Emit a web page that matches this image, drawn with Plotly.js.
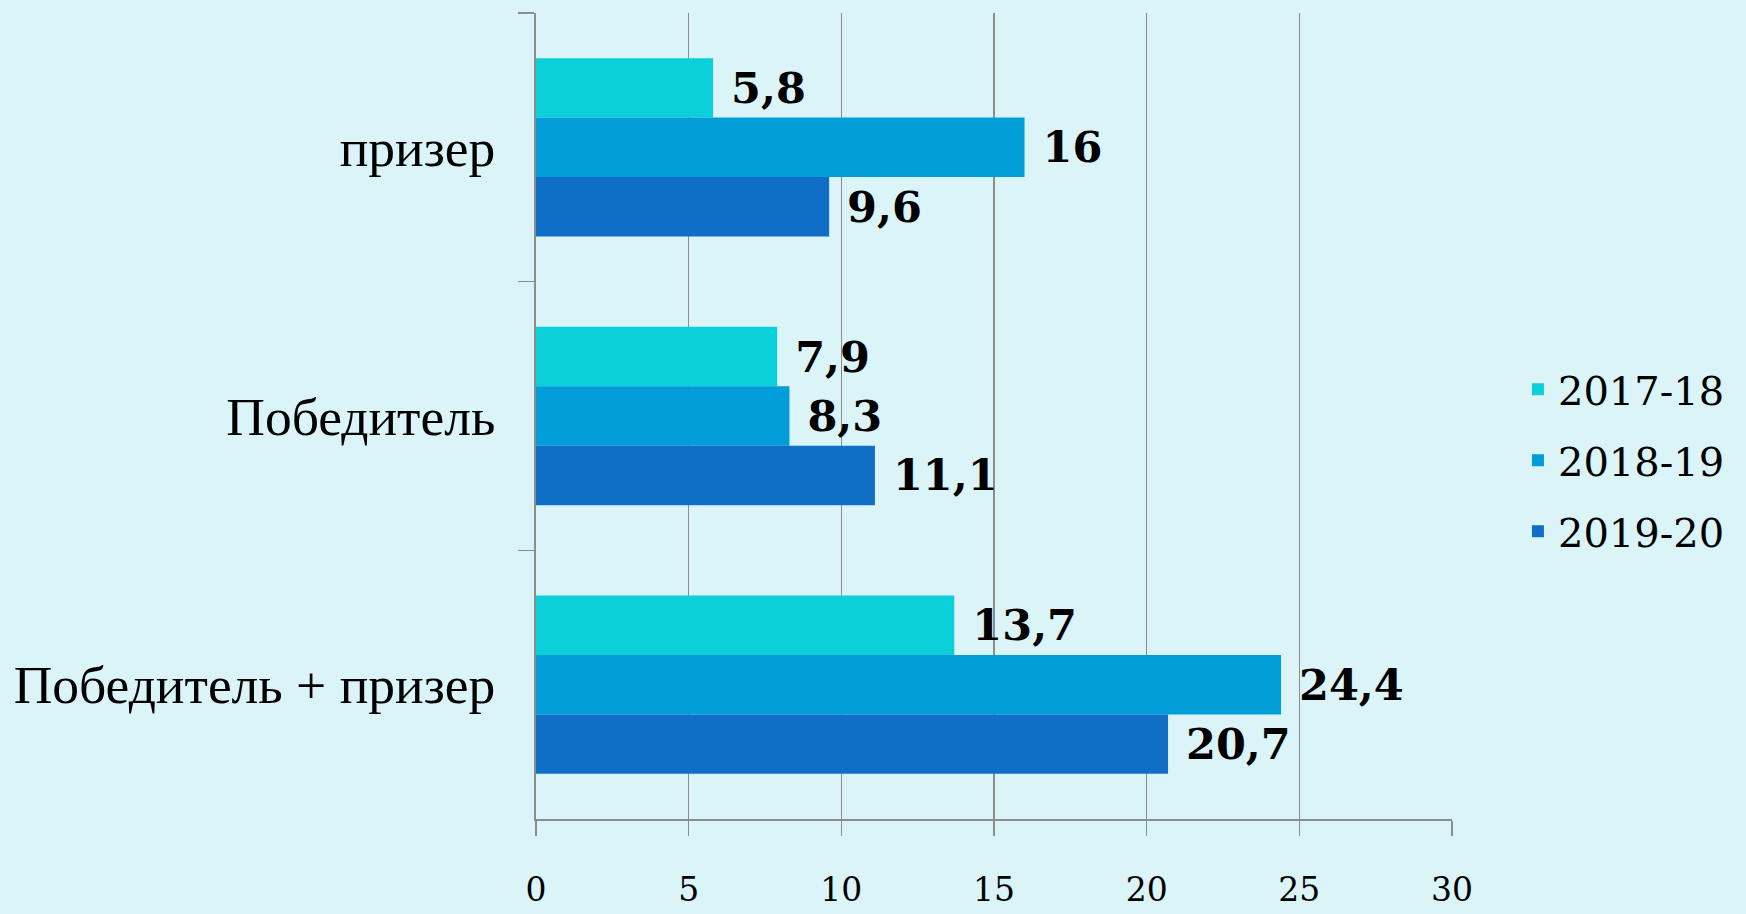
<!DOCTYPE html>
<html>
<head>
<meta charset="utf-8">
<script src="https://cdn.plot.ly/plotly-3.0.1.min.js"></script>
<style>html,body{margin:0;padding:0;background:#dbf4f8;}#chart{width:1746px;height:914px;}</style>
</head>
<body>
<div id="chart"></div>
<script>
const categories = ["призер", "Победитель", "Победитель + призер"];
const seriesNames = ["2017-18", "2018-19", "2019-20"];
const values2017 = [5.8, 7.9, 13.7];
const values2018 = [16, 8.3, 24.4];
const values2019 = [9.6, 11.1, 20.7];
const xTicks = [0, 5, 10, 15, 20, 25, 30];

const colors = ["#0bd0d9", "#009dd9", "#0f6fc6"];
const allValues = [values2017, values2018, values2019];
const fmt = v => String(v).replace('.', ',');

const traces = allValues.map((vals, i) => ({
  type: 'bar',
  orientation: 'h',
  name: seriesNames[i],
  y: categories,
  x: vals,
  text: vals.map(fmt),
  texttemplate: '\u00a0%{text}',
  textposition: 'outside',
  cliponaxis: false,
  constraintext: 'none',
  textfont: {family: 'DejaVu Serif', size: 43, color: '#000', weight: 'bold'},
  marker: {color: colors[i]},
  hoverinfo: 'x+name',
  legendgroup: 'g' + i
}));

const layout = {
  width: 1746, height: 914,
  paper_bgcolor: '#dbf4f8', plot_bgcolor: '#dbf4f8',
  margin: {l: 536, r: 294, t: 13, b: 95},
  barmode: 'group', bargap: 0.336, bargroupgap: 0,
  showlegend: true,
  legend: {
    x: 1.072, xanchor: 'left', y: 0.445, yanchor: 'middle',
    traceorder: 'grouped', tracegroupgap: 16,
    font: {family: 'DejaVu Serif', size: 40, color: '#000'},
    bgcolor: 'rgba(0,0,0,0)'
  },
  xaxis: {
    range: [0, 30], tickvals: xTicks, ticktext: xTicks.map(String),
    showgrid: true, gridcolor: '#8c8c8c', gridwidth: 1.3,
    zeroline: false, showline: true, linecolor: '#8c8c8c', linewidth: 2,
    ticks: 'outside', ticklen: 15, tickcolor: '#8c8c8c', tickwidth: 1.3,
    ticklabelstandoff: 25,
    tickfont: {family: 'DejaVu Serif', size: 33, color: '#000'},
    fixedrange: true
  },
  yaxis: {
    type: 'category', categoryorder: 'array', categoryarray: categories,
    autorange: 'reversed',
    showgrid: false, zeroline: false, showline: true, linecolor: '#8c8c8c', linewidth: 2,
    ticks: 'outside', tickson: 'boundaries', ticklen: 16, tickcolor: '#8c8c8c', tickwidth: 1.3,
    ticklabelstandoff: 28,
    tickfont: {family: 'Liberation Serif', size: 53.5, color: '#000'},
    fixedrange: true
  }
};

Plotly.newPlot('chart', traces, layout, {displayModeBar: false, staticPlot: true});
</script>
</body>
</html>
